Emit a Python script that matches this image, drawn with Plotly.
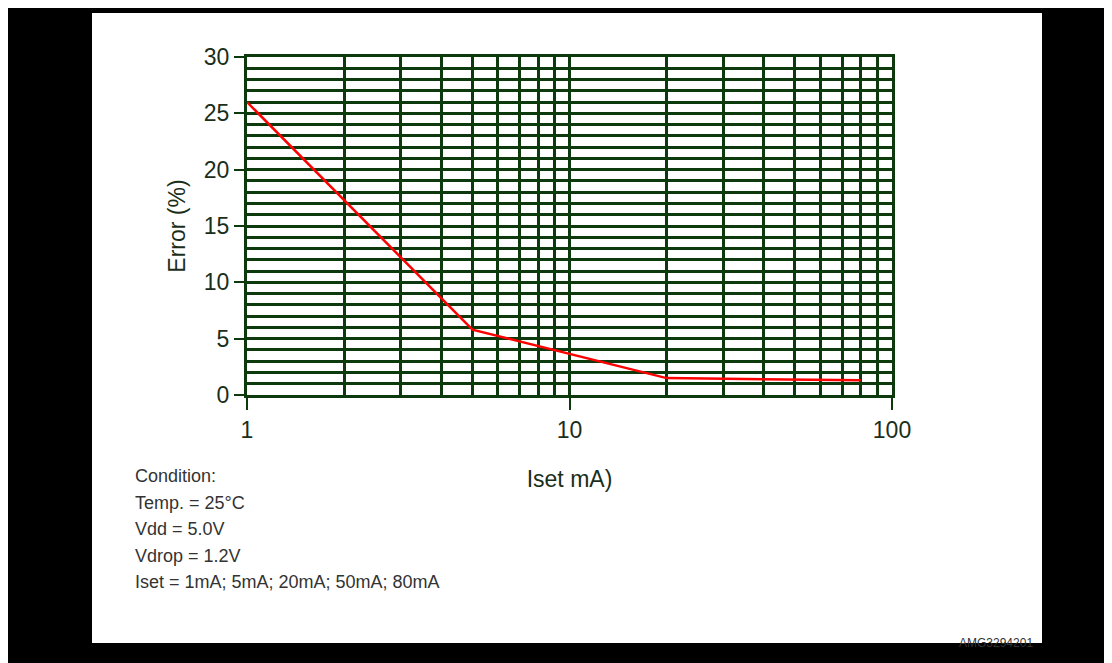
import plotly.graph_objects as go

iset = [1, 5, 20, 50, 80]
error = [26.0, 5.8, 1.5, 1.4, 1.3]
y_ticks = [0, 5, 10, 15, 20, 25, 30]
x_ticks = [1, 10, 100]
cond = ["Condition:", "Temp. = 25°C", "Vdd = 5.0V", "Vdrop = 1.2V", "Iset = 1mA; 5mA; 20mA; 50mA; 80mA"]

G = "#0d3a0d"
fig = go.Figure()
fig.add_trace(go.Scatter(x=iset, y=error, mode="lines", line=dict(color="#ff0000", width=2.5), showlegend=False))

OX, OY = 8, 8
W, H = 1112 - OX, 663 - OY
l, r, t, b = 247 - OX, 220, 57 - OY, 268
pw, ph = W - l - r, H - t - b
px = lambda x: (x - OX - l) / pw
py = lambda y: (H - b - (y - OY)) / ph

fig.add_shape(type="rect", xref="paper", yref="paper", x0=px(92), x1=px(1042), y0=py(643), y1=py(13),
              fillcolor="white", line_width=0, layer="below")

fig.update_layout(
    width=W, height=H, margin=dict(l=l, r=r, t=t, b=b),
    paper_bgcolor="black", plot_bgcolor="white",
    font=dict(family="Liberation Sans, Arial", color="#1a2e1a"),
    xaxis=dict(type="log", range=[0, 2], tickvals=x_ticks, ticktext=["1", "10", "100"],
               showgrid=True, gridcolor=G, gridwidth=3,
               minor=dict(dtick="D1", showgrid=True, gridcolor=G, gridwidth=2.5),
               showline=True, linecolor=G, linewidth=3, mirror=True,
               ticks="outside", ticklen=12, tickcolor=G, tickwidth=2,
               tickfont=dict(size=23), title=dict(text="Iset mA)", font=dict(size=23), standoff=30)),
    yaxis=dict(range=[0, 30], tickvals=y_ticks, showgrid=True, gridcolor=G, gridwidth=3,
               minor=dict(dtick=1, showgrid=True, gridcolor=G, gridwidth=2.5),
               showline=True, linecolor=G, linewidth=3, mirror=True,
               ticks="outside", ticklen=10, tickcolor=G, tickwidth=2,
               tickfont=dict(size=23), title=dict(text="Error (%)", font=dict(size=23), standoff=12)),
)

for i, s in enumerate(cond):
    fig.add_annotation(xref="paper", yref="paper", x=px(133), y=py(476 + i * 26.5), text=s, showarrow=False,
                       xanchor="left", yanchor="middle", font=dict(size=18, color="#333333"))
fig.add_annotation(xref="paper", yref="paper", x=px(957), y=py(634), text="AMG3294201", showarrow=False,
                   xanchor="left", yanchor="top", font=dict(size=12, color="#333333"))

fig.write_html("out.html")
